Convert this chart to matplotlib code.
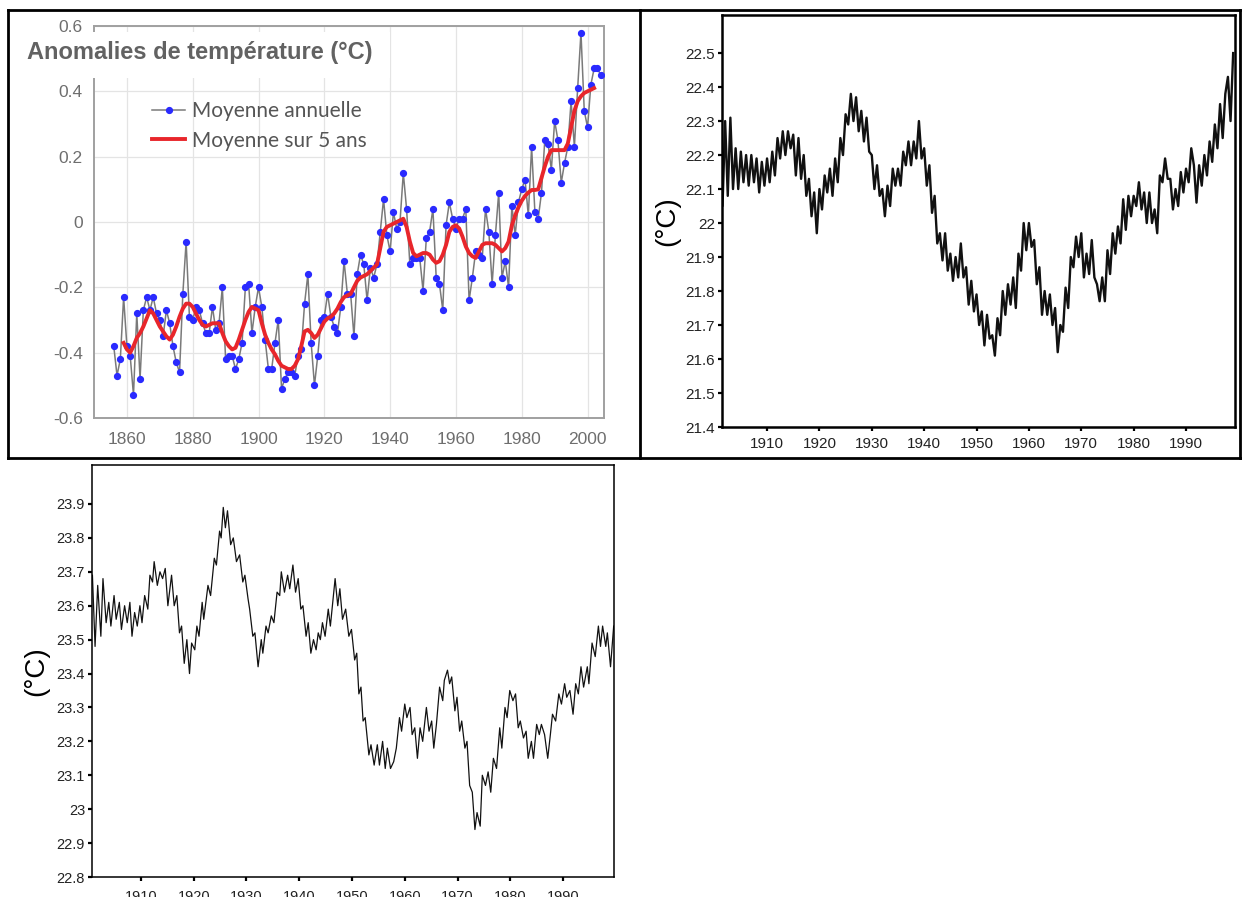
import numpy as np
import matplotlib
matplotlib.use("Agg")
import matplotlib.pyplot as plt
from matplotlib.lines import Line2D
from matplotlib.patches import Rectangle

W, H = 1242, 897

# ---- panel 1 : anomalies globales (annual + 5-year mean)
an_years = np.arange(1856, 2005)
an_vals = [
    -0.38, -0.47, -0.42, -0.23, -0.38, -0.41, -0.53, -0.28, -0.48, -0.27,
    -0.23, -0.27, -0.23, -0.28, -0.30, -0.35, -0.27, -0.31, -0.38, -0.43,
    -0.46, -0.22, -0.06, -0.29, -0.30, -0.26, -0.27, -0.31, -0.34, -0.34,
    -0.26, -0.33, -0.31, -0.20, -0.42, -0.41, -0.41, -0.45, -0.42, -0.37,
    -0.20, -0.19, -0.34, -0.26, -0.20, -0.26, -0.36, -0.45, -0.45, -0.37,
    -0.30, -0.51, -0.48, -0.46, -0.46, -0.47, -0.41, -0.39, -0.25, -0.16,
    -0.37, -0.50, -0.41, -0.30, -0.29, -0.22, -0.29, -0.32, -0.34, -0.26,
    -0.12, -0.22, -0.22, -0.35, -0.16, -0.10, -0.13, -0.24, -0.14, -0.17,
    -0.13, -0.03, 0.07, -0.04, -0.09, 0.03, -0.02, 0.00, 0.15, 0.04,
    -0.13, -0.11, -0.11, -0.11, -0.21, -0.05, -0.03, 0.04, -0.17, -0.19,
    -0.27, -0.01, 0.06, 0.01, -0.02, 0.01, 0.01, 0.04, -0.24, -0.17,
    -0.09, -0.10, -0.11, 0.04, -0.03, -0.19, -0.04, 0.09, -0.17, -0.12,
    -0.20, 0.05, -0.04, 0.06, 0.10, 0.13, 0.02, 0.23, 0.03, 0.01,
    0.09, 0.25, 0.24, 0.16, 0.31, 0.25, 0.12, 0.18, 0.23, 0.37,
    0.23, 0.41, 0.58, 0.34, 0.29, 0.42, 0.47, 0.47, 0.45,
]
sm_years = np.arange(1859, 2003)
sm_vals = [
    -0.37, -0.39, -0.40, -0.38, -0.355, -0.34, -0.32, -0.295, -0.27, -0.28,
    -0.30, -0.32, -0.335, -0.35, -0.36, -0.345, -0.32, -0.29, -0.265, -0.25,
    -0.25, -0.26, -0.28, -0.30, -0.315, -0.32, -0.315, -0.31, -0.31, -0.31,
    -0.34, -0.365, -0.38, -0.39, -0.385, -0.36, -0.33, -0.30, -0.275, -0.26,
    -0.265, -0.27, -0.31, -0.345, -0.37, -0.39, -0.405, -0.425, -0.44, -0.445,
    -0.45, -0.45, -0.44, -0.42, -0.38, -0.335, -0.33, -0.34, -0.355, -0.345,
    -0.325, -0.305, -0.295, -0.29, -0.28, -0.265, -0.245, -0.23, -0.225, -0.22,
    -0.20, -0.18, -0.17, -0.165, -0.16, -0.15, -0.14, -0.13, -0.08, -0.03,
    -0.015, -0.01, -0.005, 0.0, 0.005, 0.01, -0.015, -0.06, -0.095, -0.105,
    -0.10, -0.095, -0.095, -0.10, -0.115, -0.125, -0.12, -0.10, -0.07, -0.03,
    -0.015, -0.01, -0.02, -0.045, -0.075, -0.095, -0.105, -0.11, -0.09, -0.07,
    -0.065, -0.065, -0.065, -0.07, -0.08, -0.09, -0.08, -0.06, -0.01, 0.02,
    0.045, 0.065, 0.08, 0.09, 0.098, 0.098, 0.10, 0.135, 0.17, 0.20,
    0.22, 0.22, 0.22, 0.22, 0.22, 0.24, 0.29, 0.34, 0.37, 0.385,
    0.395, 0.40, 0.405, 0.41,
]
p1_xticks = [1860, 1880, 1900, 1920, 1940, 1960, 1980, 2000]
p1_yticks = [-0.6, -0.4, -0.2, 0, 0.2, 0.4, 0.6]
p1_ylabels = ["-0.6", "-0.4", "-0.2", "0", "0.2", "0.4", "0.6"]

# ---- panel 2 : station series (half-year steps)
p2_t = np.arange(1901.0, 1999.01, 0.5)
p2_vals = [
    22.31, 22.05, 22.30, 22.08, 22.31, 22.10, 22.22, 22.10, 22.21, 22.12,
    22.20, 22.11, 22.20, 22.12, 22.19, 22.09, 22.18, 22.11, 22.19, 22.12,
    22.21, 22.14, 22.25, 22.19, 22.27, 22.20, 22.27, 22.22, 22.26, 22.14,
    22.25, 22.13, 22.20, 22.08, 22.13, 22.02, 22.09, 21.97, 22.10, 22.04,
    22.14, 22.09, 22.16, 22.08, 22.19, 22.12, 22.25, 22.20, 22.32, 22.29,
    22.38, 22.30, 22.37, 22.27, 22.33, 22.24, 22.31, 22.21, 22.20, 22.10,
    22.17, 22.08, 22.10, 22.02, 22.11, 22.05, 22.16, 22.11, 22.16, 22.11,
    22.21, 22.17, 22.24, 22.17, 22.24, 22.19, 22.30, 22.19, 22.22, 22.11,
    22.17, 22.03, 22.08, 21.94, 21.97, 21.89, 21.97, 21.86, 21.91, 21.83,
    21.90, 21.84, 21.94, 21.84, 21.87, 21.76, 21.83, 21.74, 21.79, 21.70,
    21.74, 21.64, 21.73, 21.66, 21.67, 21.61, 21.72, 21.67, 21.80, 21.73,
    21.82, 21.76, 21.84, 21.75, 21.91, 21.86, 22.00, 21.92, 22.00, 21.93,
    21.95, 21.82, 21.87, 21.73, 21.80, 21.73, 21.79, 21.70, 21.75, 21.62,
    21.70, 21.68, 21.81, 21.75, 21.90, 21.87, 21.96, 21.90, 21.97, 21.84,
    21.91, 21.85, 21.95, 21.84, 21.82, 21.77, 21.84, 21.77, 21.92, 21.85,
    21.97, 21.91, 21.99, 21.94, 22.07, 21.98, 22.08, 22.02, 22.08, 22.05,
    22.12, 22.04, 22.09, 22.00, 22.09, 22.00, 22.04, 21.97, 22.14, 22.12,
    22.19, 22.13, 22.13, 22.04, 22.10, 22.05, 22.15, 22.09, 22.16, 22.12,
    22.22, 22.17, 22.06, 22.17, 22.11, 22.20, 22.14, 22.24, 22.18, 22.29,
    22.22, 22.35, 22.25, 22.38, 22.43, 22.30, 22.50,
]
p2_yticks = [21.4, 21.5, 21.6, 21.7, 21.8, 21.9, 22.0, 22.1, 22.2, 22.3, 22.4, 22.5]
p2_ylabels = ["21.4", "21.5", "21.6", "21.7", "21.8", "21.9", "22", "22.1",
              "22.2", "22.3", "22.4", "22.5"]

# ---- panel 3 : second station series
p3_t = [
    1900.8, 1901.3, 1901.8, 1902.4, 1902.8, 1903.4, 1903.9, 1904.3, 1904.9, 1905.3,
    1905.9, 1906.3, 1906.9, 1907.4, 1907.9, 1908.3, 1908.8, 1909.3, 1909.8, 1910.2,
    1910.7, 1911.3, 1911.7, 1912.2, 1912.5, 1913.1, 1913.6, 1914.1, 1914.6, 1915.1,
    1915.8, 1916.3, 1916.8, 1917.3, 1917.7, 1918.2, 1918.7, 1919.2, 1919.6, 1920.2,
    1920.6, 1921.0, 1921.6, 1921.9, 1922.7, 1923.2, 1923.9, 1924.3, 1924.9, 1925.2,
    1925.6, 1926.0, 1926.4, 1927.0, 1927.5, 1928.1, 1928.7, 1929.3, 1929.7, 1930.3,
    1930.6, 1931.2, 1931.6, 1932.2, 1932.8, 1933.1, 1933.7, 1934.1, 1934.7, 1935.2,
    1935.8, 1936.3, 1936.6, 1937.2, 1937.8, 1938.2, 1938.8, 1939.3, 1939.8, 1940.3,
    1940.7, 1941.3, 1941.7, 1942.2, 1942.7, 1943.2, 1943.6, 1944.0, 1944.4, 1944.9,
    1945.5, 1945.9, 1946.8, 1947.3, 1947.7, 1948.2, 1948.8, 1949.4, 1949.9, 1950.5,
    1950.9, 1951.3, 1951.7, 1952.1, 1952.5, 1953.2, 1953.6, 1954.2, 1954.8, 1955.2,
    1955.8, 1956.3, 1956.7, 1957.3, 1957.9, 1958.4, 1959.0, 1959.4, 1960.0, 1960.4,
    1961.0, 1961.4, 1961.9, 1962.4, 1962.9, 1963.4, 1964.1, 1964.6, 1965.1, 1965.5,
    1966.0, 1966.6, 1967.2, 1967.5, 1968.1, 1968.5, 1968.9, 1969.5, 1969.9, 1970.4,
    1970.8, 1971.4, 1971.8, 1972.3, 1972.8, 1973.3, 1973.7, 1974.3, 1974.7, 1975.3,
    1975.8, 1976.3, 1976.8, 1977.4, 1978.0, 1978.4, 1979.0, 1979.4, 1979.9, 1980.5,
    1981.0, 1981.5, 1981.9, 1982.5, 1983.0, 1983.4, 1984.0, 1984.4, 1985.0, 1985.5,
    1985.9, 1986.5, 1987.1, 1987.6, 1988.0, 1988.6, 1989.2, 1989.7, 1990.3, 1990.7,
    1991.3, 1991.9, 1992.4, 1992.9, 1993.4, 1993.9, 1994.6, 1994.9, 1995.5, 1996.1,
    1996.7, 1997.1, 1997.5, 1998.1, 1998.4, 1999.0, 1999.6,
]
p3_vals = [
    23.69, 23.48, 23.66, 23.51, 23.68, 23.55, 23.61, 23.54, 23.63, 23.56,
    23.61, 23.53, 23.60, 23.55, 23.61, 23.51, 23.58, 23.54, 23.60, 23.55,
    23.63, 23.59, 23.69, 23.67, 23.73, 23.66, 23.70, 23.68, 23.71, 23.60,
    23.69, 23.60, 23.63, 23.52, 23.54, 23.43, 23.50, 23.40, 23.49, 23.47,
    23.54, 23.51, 23.61, 23.56, 23.66, 23.63, 23.74, 23.72, 23.82, 23.80,
    23.89, 23.83, 23.88, 23.78, 23.80, 23.73, 23.75, 23.67, 23.69, 23.62,
    23.59, 23.51, 23.52, 23.42, 23.50, 23.46, 23.54, 23.52, 23.57, 23.55,
    23.64, 23.63, 23.70, 23.64, 23.69, 23.65, 23.72, 23.64, 23.68, 23.59,
    23.60, 23.51, 23.55, 23.46, 23.50, 23.47, 23.52, 23.50, 23.55, 23.51,
    23.59, 23.54, 23.68, 23.60, 23.65, 23.56, 23.59, 23.51, 23.53, 23.44,
    23.46, 23.34, 23.36, 23.26, 23.27, 23.16, 23.19, 23.13, 23.19, 23.13,
    23.20, 23.12, 23.18, 23.12, 23.14, 23.18, 23.27, 23.23, 23.31, 23.27,
    23.30, 23.22, 23.24, 23.15, 23.24, 23.20, 23.30, 23.23, 23.26, 23.18,
    23.25, 23.36, 23.32, 23.38, 23.41, 23.37, 23.39, 23.29, 23.33, 23.23,
    23.26, 23.18, 23.20, 23.07, 23.05, 22.94, 22.99, 22.95, 23.10, 23.07,
    23.11, 23.05, 23.15, 23.12, 23.24, 23.18, 23.30, 23.27, 23.35, 23.32,
    23.34, 23.24, 23.26, 23.21, 23.23, 23.15, 23.20, 23.15, 23.25, 23.22,
    23.25, 23.22, 23.15, 23.22, 23.28, 23.26, 23.34, 23.31, 23.37, 23.33,
    23.35, 23.28, 23.37, 23.34, 23.42, 23.36, 23.42, 23.37, 23.49, 23.45,
    23.54, 23.48, 23.54, 23.48, 23.52, 23.42, 23.54,
]
p3_yticks = [22.8, 22.9, 23.0, 23.1, 23.2, 23.3, 23.4, 23.5, 23.6, 23.7, 23.8, 23.9]
p3_ylabels = ["22.8", "22.9", "23", "23.1", "23.2", "23.3", "23.4", "23.5",
              "23.6", "23.7", "23.8", "23.9"]
decade_ticks = [1910, 1920, 1930, 1940, 1950, 1960, 1970, 1980, 1990]


def box(x0, y0, x1, y1):
    # pixel box (top-left origin) -> figure rect
    return [x0 / W, 1 - y1 / H, (x1 - x0) / W, (y1 - y0) / H]


fig = plt.figure(figsize=(W / 100, H / 100), dpi=100)
fig.patch.set_facecolor("white")

# ---------- panel 1
ax1 = fig.add_axes(box(94, 26, 604, 418))
ax1.plot(an_years, an_vals, color="#7a7a7a", lw=1.1, marker="o", ms=4.2,
         mfc="#2a2aff", mec="#2a2aff", label="Moyenne annuelle", zorder=3)
ax1.plot(sm_years, sm_vals, color="#e8262b", lw=2.8, label="Moyenne sur 5 ans",
         zorder=4)
ax1.set_xlim(1850, 2005)
ax1.set_ylim(-0.6, 0.6)
ax1.set_xticks(p1_xticks)
ax1.set_yticks(p1_yticks)
ax1.set_yticklabels(p1_ylabels)
ax1.grid(color="#e4e4e4", lw=0.9)
ax1.set_axisbelow(True)
for s in ax1.spines.values():
    s.set_color("#a0a0a0")
    s.set_linewidth(1.4)
ax1.tick_params(length=0, pad=8, labelsize=12.5, labelcolor="#6e6e6e")
ax1.tick_params(axis="x", pad=10)
for lab in ax1.get_xticklabels() + ax1.get_yticklabels():
    lab.set_family("Liberation Sans")
leg = ax1.legend(loc="upper left", bbox_to_anchor=(0.114, 0.808), frameon=False,
                 handlelength=1.6, handletextpad=0.3,
                 labelspacing=0.45, borderpad=0, borderaxespad=0, numpoints=1,
                 prop={"family": "Lato", "size": 15})
for t in leg.get_texts():
    t.set_color("#555555")

# white patch under the title, hides the spine like in the original
fig.add_artist(Rectangle((20 / W, 1 - 78 / H), 370 / W, 46 / H,
                         transform=fig.transFigure, facecolor="white",
                         edgecolor="none", zorder=5))
fig.text(27 / W, 1 - 52 / H, "Anomalies de température (°C)", ha="left",
         va="center", fontsize=17, fontweight="bold", color="#626262",
         family="Liberation Sans", zorder=6)

# ---------- panel 2
ax2 = fig.add_axes(box(722, 15, 1235, 427))
ax2.plot(p2_t, p2_vals, color="#111111", lw=1.7)
ax2.set_xlim(1901.4, 1999.35)
ax2.set_ylim(21.4, 22.612)
ax2.set_yticks(p2_yticks)
ax2.set_yticklabels(p2_ylabels)
ax2.set_xticks(decade_ticks)
for s in ax2.spines.values():
    s.set_linewidth(1.8)
ax2.tick_params(direction="out", length=3, width=1.6, pad=2, labelsize=11,
                labelcolor="#222222")
ax2.tick_params(axis="x", pad=4)
ax2.set_ylabel("(°C)", fontsize=20, family="Liberation Sans", labelpad=4)

# ---------- panel 3
ax3 = fig.add_axes(box(92, 465, 614, 877))
ax3.plot(p3_t, p3_vals, color="#111111", lw=0.9)
ax3.set_xlim(1900.72, 1999.66)
ax3.set_ylim(22.8, 24.015)
ax3.set_yticks(p3_yticks)
ax3.set_yticklabels(p3_ylabels)
ax3.set_xticks(decade_ticks)
for s in ax3.spines.values():
    s.set_linewidth(1.1)
ax3.tick_params(direction="out", length=3, width=1.6, pad=2, labelsize=10.5,
                labelcolor="#222222")
ax3.tick_params(axis="x", pad=6)
ax3.set_ylabel("(°C)", fontsize=20, family="Liberation Sans", labelpad=5)

for a in (ax2, ax3):
    for lab in a.get_xticklabels() + a.get_yticklabels():
        lab.set_family("Liberation Sans")

# ---------- table borders around the two top cells
def hline(y, x0, x1):
    fig.add_artist(Line2D([x0 / W, x1 / W], [1 - y / H, 1 - y / H],
                          transform=fig.transFigure, color="black", lw=2.0))


def vline(x, y0, y1):
    fig.add_artist(Line2D([x / W, x / W], [1 - y0 / H, 1 - y1 / H],
                          transform=fig.transFigure, color="black", lw=2.0))


hline(10, 8, 1240)
hline(458, 8, 1242)
vline(8, 10, 458)
vline(640, 10, 458)
vline(1240, 10, 458)

fig.savefig("out.png", dpi=100)
